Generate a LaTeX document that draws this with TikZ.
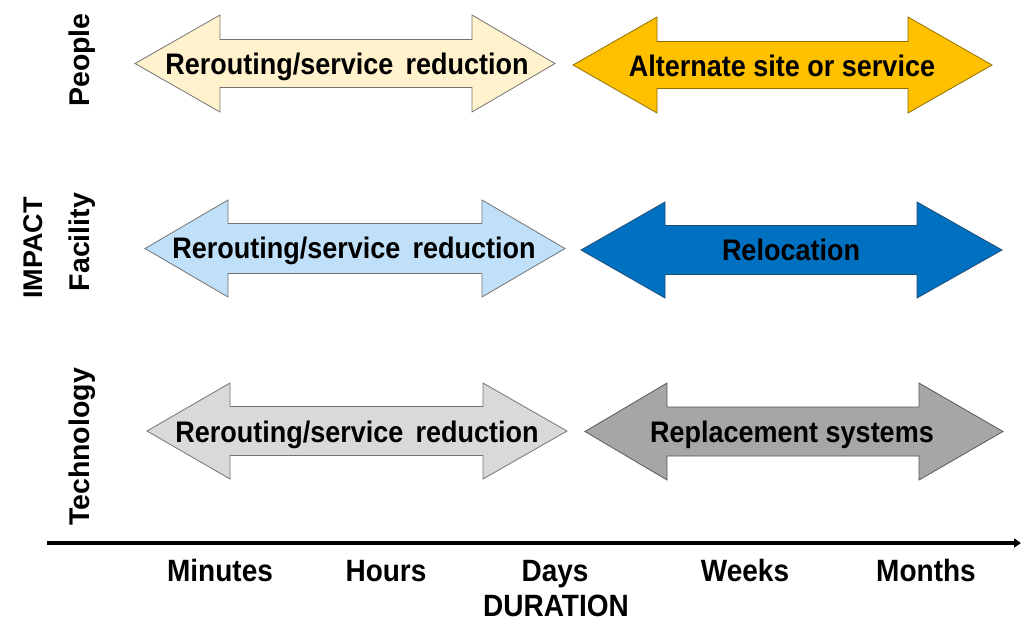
\documentclass[tikz,border=0pt]{standalone}
\usepackage{fontspec}
\setmainfont{Liberation Sans}
\usepackage{graphicx}
\usetikzlibrary{arrows.meta}

\definecolor{creamfill}{HTML}{FFF2CC}
\definecolor{goldfill}{HTML}{FFC000}
\definecolor{goldline}{HTML}{8C6D00}
\definecolor{skyfill}{HTML}{BFE0F8}
\definecolor{bluefill}{HTML}{0070C0}
\definecolor{blueline}{HTML}{1F4E79}
\definecolor{lightgreyfill}{HTML}{D9D9D9}
\definecolor{darkgreyfill}{HTML}{A6A6A6}

% double-headed block arrow:
% #1 left tip x, #2 left head base x, #3 right head base x, #4 right tip x,
% #5 centre y, #6 head half height, #7 shaft half height, #8 style
\newcommand{\dblarrow}[8]{%
  \draw[#8] (#1,#5) -- (#2,#5-#6) -- (#2,#5-#7) -- (#3,#5-#7) -- (#3,#5-#6)
    -- (#4,#5) -- (#3,#5+#6) -- (#3,#5+#7) -- (#2,#5+#7) -- (#2,#5+#6) -- cycle;}

\newcommand{\tallbox}[1]{\scalebox{1}[1.1]{#1}}

\tikzset{
  blockarrow/.style={line width=0.8pt, line join=miter},
  pale/.style={blockarrow, fill=#1, draw=black!55},
  arrowlabel/.style={font=\bfseries\fontsize{27}{30}\selectfont, inner sep=0pt, anchor=base},
  rowlabel/.style={font=\bfseries\fontsize{28.5}{32}\selectfont, inner sep=0pt, anchor=base, rotate=90},
  ticklabel/.style={font=\bfseries\fontsize{28}{32}\selectfont, inner sep=0pt, anchor=base},
  timeaxis/.style={line width=3.2pt, -{Triangle[length=7pt,width=9pt]}},
}

\begin{document}
\begin{tikzpicture}[x=1pt,y=-1pt]
\useasboundingbox (0,0) rectangle (1022,622);

% People row
\dblarrow{135}{220}{472}{555}{63.5}{48.5}{24}{pale=creamfill}
\node[arrowlabel] (p1) at (347,74) {\tallbox{Rerouting/service\hspace{0.45em}reduction}};
\dblarrow{573}{657}{908}{992}{65}{48}{23.5}{blockarrow, fill=goldfill, draw=goldline}
\node[arrowlabel] (p2) at (782,76) {\tallbox{Alternate site or service}};

% Facility row
\dblarrow{145}{228}{482}{565}{248.5}{48.5}{25}{pale=skyfill}
\node[arrowlabel] (f1) at (354,258) {\tallbox{Rerouting/service\hspace{0.45em}reduction}};
\dblarrow{581}{665}{917}{1002}{250}{48}{24.5}{blockarrow, fill=bluefill, draw=blueline}
\node[arrowlabel] (f2) at (791,260) {\tallbox{Relocation}};

% Technology row
\dblarrow{147}{230}{483}{567}{431}{48}{24.5}{pale=lightgreyfill}
\node[arrowlabel] (t1) at (357,442) {\tallbox{Rerouting/service\hspace{0.45em}reduction}};
\dblarrow{585}{667}{919}{1003}{431.5}{48.5}{24.5}{blockarrow, fill=darkgreyfill, draw=black!65}
\node[arrowlabel] (t2) at (792,442) {\tallbox{Replacement systems}};

% vertical labels
\node[rowlabel] (people) at (89,60) {People};
\node[rowlabel] (facility) at (89,242) {Facility};
\node[rowlabel] (technology) at (89,447) {Technology};
\node[rowlabel, font=\bfseries\fontsize{27}{30}\selectfont] (impact) at (42,248) {IMPACT};

% duration axis
\coordinate (axisL) at (47,543);
\coordinate (axisR) at (1021,543);
\draw[timeaxis] (axisL) -- (axisR);

\node[ticklabel] (minutes) at (220,581) {\tallbox{Minutes}};
\node[ticklabel] (hours) at (386,581) {\tallbox{Hours}};
\node[ticklabel] (days) at (555,581) {\tallbox{Days}};
\node[ticklabel] (weeks) at (745,581) {\tallbox{Weeks}};
\node[ticklabel] (months) at (926,581) {\tallbox{Months}};
\node[ticklabel] (duration) at (556,616) {\tallbox{DURATION}};
\end{tikzpicture}
\end{document}
